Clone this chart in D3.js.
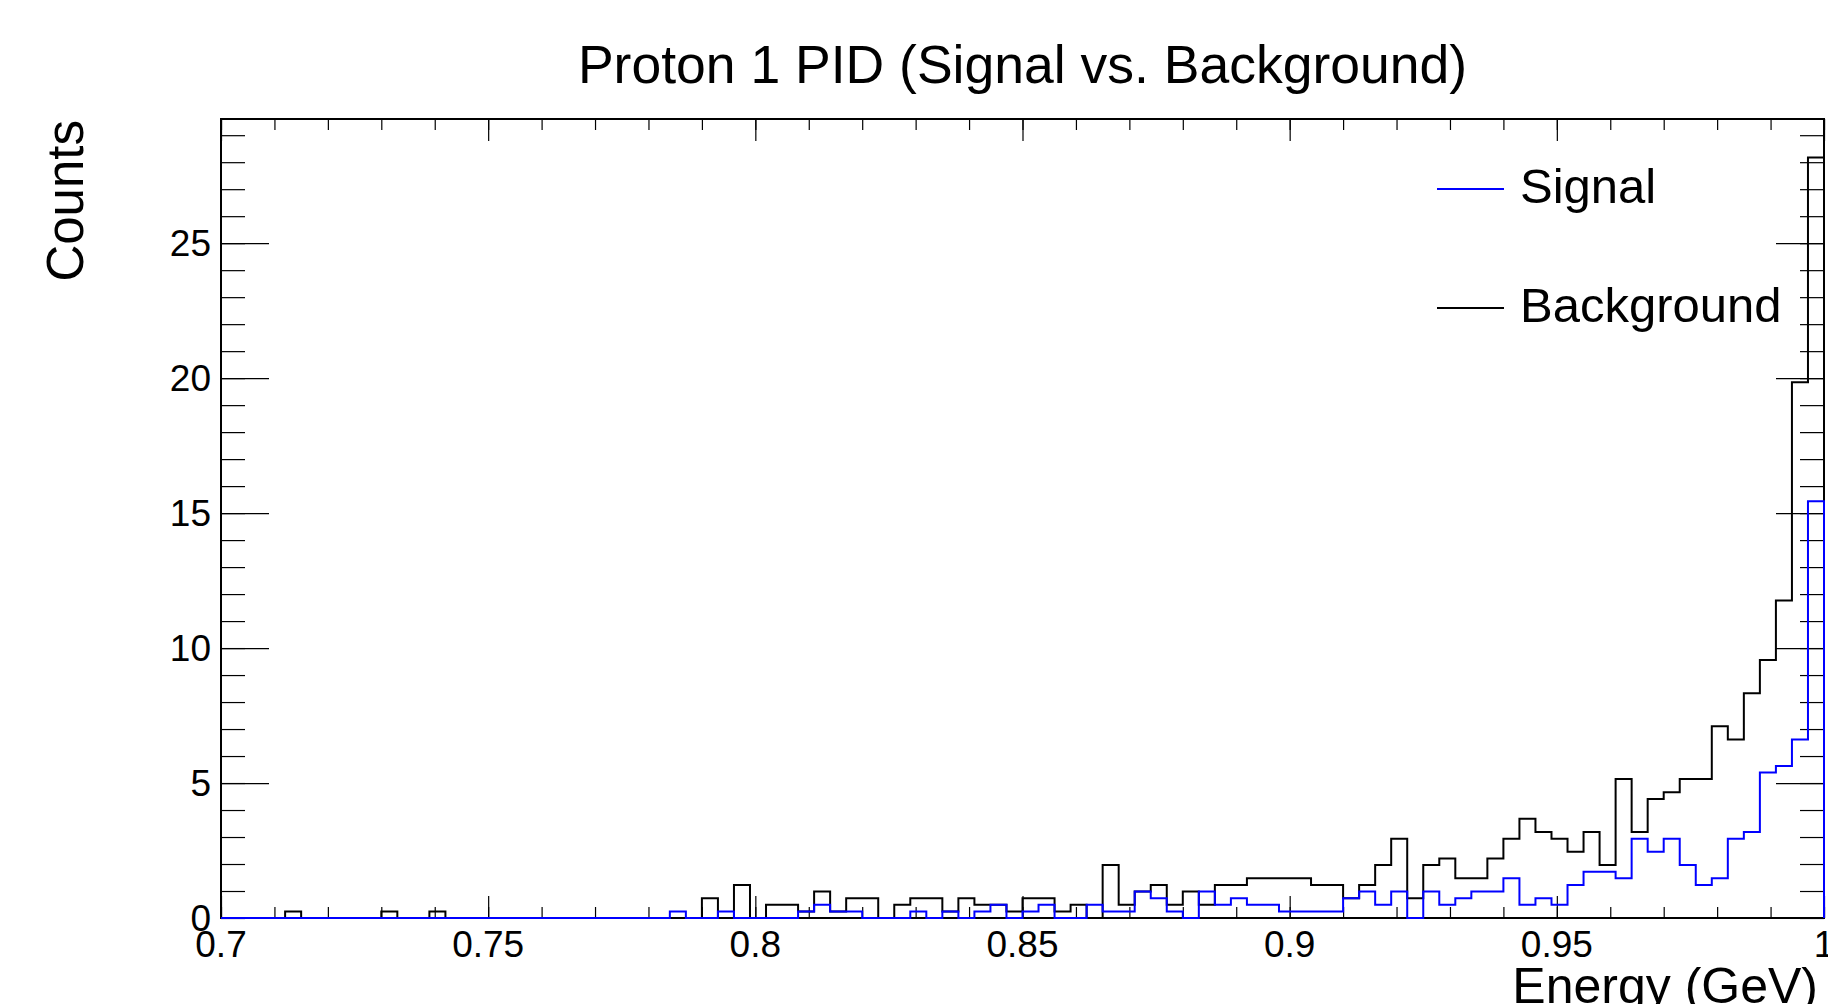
<!DOCTYPE html>
<html>
<head>
<meta charset="utf-8">
<script src="https://cdn.jsdelivr.net/npm/d3@7/dist/d3.min.js"></script>
<style>
  body { margin: 0; background: #fff; }
  svg { display: block; }
  text { font-family: "Liberation Sans", Arial, Helvetica, sans-serif; fill: #000; }
</style>
</head>
<body>
<div id="chart"></div>
<script>
// histogram binning: 100 bins between 0.7 and 1.0 GeV
const xMin = 0.7
const xMax = 1.0
const nBins = 100

const signal = [
  0, 0, 0, 0, 0, 0, 0, 0, 0, 0,
  0, 0, 0, 0, 0, 0, 0, 0, 0, 0,
  0, 0, 0, 0, 0, 0, 0, 0, 0.245, 0,
  0, 0.245, 0, 0, 0, 0, 0.245, 0.49, 0.245, 0.245,
  0, 0, 0, 0.245, 0, 0.245, 0, 0.245, 0.49, 0,
  0.245, 0.49, 0, 0, 0.49, 0.245, 0.245, 0.98, 0.735, 0.245,
  0, 0.98, 0.49, 0.735, 0.49, 0.49, 0.245, 0.245, 0.245, 0.245,
  0.735, 0.98, 0.49, 0.98, 0, 0.98, 0.49, 0.735, 0.98, 0.98,
  1.47, 0.49, 0.735, 0.49, 1.225, 1.715, 1.715, 1.47, 2.94, 2.45,
  2.94, 1.96, 1.225, 1.47, 2.94, 3.185, 5.39, 5.635, 6.615, 15.435
]

const background = [
  0, 0, 0, 0, 0.245, 0, 0, 0, 0, 0,
  0.245, 0, 0, 0.245, 0, 0, 0, 0, 0, 0,
  0, 0, 0, 0, 0, 0, 0, 0, 0, 0,
  0.735, 0, 1.225, 0, 0.49, 0.49, 0.245, 0.98, 0.245, 0.735,
  0.735, 0, 0.49, 0.735, 0.735, 0.245, 0.735, 0.49, 0.49, 0.245,
  0.735, 0.735, 0.245, 0.49, 0, 1.96, 0.49, 0.98, 1.225, 0.49,
  0.98, 0.49, 1.225, 1.225, 1.47, 1.47, 1.47, 1.47, 1.225, 1.225,
  0.735, 1.225, 1.96, 2.94, 0.735, 1.96, 2.205, 1.47, 1.47, 2.205,
  2.94, 3.675, 3.185, 2.94, 2.45, 3.185, 1.96, 5.145, 3.185, 4.41,
  4.655, 5.145, 5.145, 7.105, 6.615, 8.33, 9.555, 11.76, 19.845, 28.175
]

const yMax = 29.6
const xMajorTicks = [0.7, 0.75, 0.8, 0.85, 0.9, 0.95, 1.0]
const xTickLabels = ['0.7', '0.75', '0.8', '0.85', '0.9', '0.95', '1']
const yMajorTicks = [0, 5, 10, 15, 20, 25]
const yTickLabels = ['0', '5', '10', '15', '20', '25']

const series = [
  { name: 'Background', values: background, color: '#000000' },
  { name: 'Signal', values: signal, color: '#0000ff' }
]
const legendOrder = ['Signal', 'Background']

const width = 1828
const height = 1004
const margin = { left: 221, right: 4, top: 119, bottom: 86 }

const svg = d3.select('#chart')
  .append('svg')
  .attr('width', width)
  .attr('height', height)

const x = d3.scaleLinear()
  .domain([xMin, xMax])
  .range([margin.left, width - margin.right])

const y = d3.scaleLinear()
  .domain([0, yMax])
  .range([height - margin.bottom, margin.top])

const binWidth = (xMax - xMin) / nBins

// minor tick positions
const xMinor = d3.range(0, 31).map(i => xMin + i * 0.01)
const yMinor = d3.range(0, 30)

// ticks drawn inward on all four sides, ROOT style
function tickAxis (axis, transform) {
  const g = svg.append('g')
    .attr('transform', transform)
    .call(axis)
  g.select('.domain').remove()
  g.selectAll('line').attr('stroke', '#000').attr('stroke-width', 1.2)
  g.selectAll('text').remove()
  return g
}

const x0 = x.range()[0]
const x1 = x.range()[1]
const y0 = y.range()[0]
const y1 = y.range()[1]

tickAxis(d3.axisBottom(x).tickValues(xMinor).tickSize(-11), `translate(0,${y0})`)
tickAxis(d3.axisBottom(x).tickValues(xMajorTicks).tickSize(-22), `translate(0,${y0})`)
tickAxis(d3.axisTop(x).tickValues(xMinor).tickSize(-11), `translate(0,${y1})`)
tickAxis(d3.axisTop(x).tickValues(xMajorTicks).tickSize(-22), `translate(0,${y1})`)
tickAxis(d3.axisLeft(y).tickValues(yMinor).tickSize(-24), `translate(${x0},0)`)
tickAxis(d3.axisLeft(y).tickValues(yMajorTicks).tickSize(-48), `translate(${x0},0)`)
tickAxis(d3.axisRight(y).tickValues(yMinor).tickSize(-24), `translate(${x1},0)`)
tickAxis(d3.axisRight(y).tickValues(yMajorTicks).tickSize(-48), `translate(${x1},0)`)

// frame
svg.append('rect')
  .attr('x', x0)
  .attr('y', y1)
  .attr('width', x1 - x0)
  .attr('height', y0 - y1)
  .attr('fill', 'none')
  .attr('stroke', '#000')
  .attr('stroke-width', 2)

// tick labels
svg.append('g')
  .selectAll('text')
  .data(xMajorTicks)
  .enter()
  .append('text')
  .attr('x', d => x(d))
  .attr('y', 957)
  .attr('text-anchor', 'middle')
  .attr('font-size', 37)
  .text((d, i) => xTickLabels[i])

svg.append('g')
  .selectAll('text')
  .data(yMajorTicks)
  .enter()
  .append('text')
  .attr('x', x0 - 10)
  .attr('y', d => y(d))
  .attr('dy', '0.36em')
  .attr('text-anchor', 'end')
  .attr('font-size', 37)
  .text((d, i) => yTickLabels[i])

// histograms as step outlines
function stepPath (values) {
  const pts = [[x(xMin), y(0)]]
  values.forEach((v, i) => {
    const lo = xMin + i * binWidth
    pts.push([x(lo), y(v)])
    pts.push([x(lo + binWidth), y(v)])
  })
  pts.push([x(xMax), y(0)])
  return d3.line()(pts)
}

svg.append('g')
  .selectAll('path')
  .data(series)
  .enter()
  .append('path')
  .attr('d', d => stepPath(d.values))
  .attr('fill', 'none')
  .attr('stroke', d => d.color)
  .attr('stroke-width', 2)
  .attr('stroke-linejoin', 'miter')

// titles
svg.append('text')
  .attr('x', (x0 + x1) / 2)
  .attr('y', 83)
  .attr('text-anchor', 'middle')
  .attr('font-size', 53.5)
  .text('Proton 1 PID (Signal vs. Background)')

svg.append('text')
  .attr('transform', 'translate(83,120) rotate(-90)')
  .attr('text-anchor', 'end')
  .attr('font-size', 51)
  .text('Counts')

svg.append('text')
  .attr('x', 1818)
  .attr('y', 1003)
  .attr('text-anchor', 'end')
  .attr('font-size', 50)
  .text('Energy (GeV)')

// legend
const legendRows = [189, 308]
const legend = svg.append('g')
  .selectAll('g')
  .data(legendOrder.map(n => series.find(s => s.name === n)))
  .enter()
  .append('g')
  .attr('transform', (d, i) => `translate(0,${legendRows[i]})`)

legend.append('line')
  .attr('x1', 1437)
  .attr('x2', 1504)
  .attr('stroke', d => d.color)
  .attr('stroke-width', 2)

legend.append('text')
  .attr('x', 1520)
  .attr('dy', '0.28em')
  .attr('font-size', 49)
  .text(d => d.name)
</script>
</body>
</html>
